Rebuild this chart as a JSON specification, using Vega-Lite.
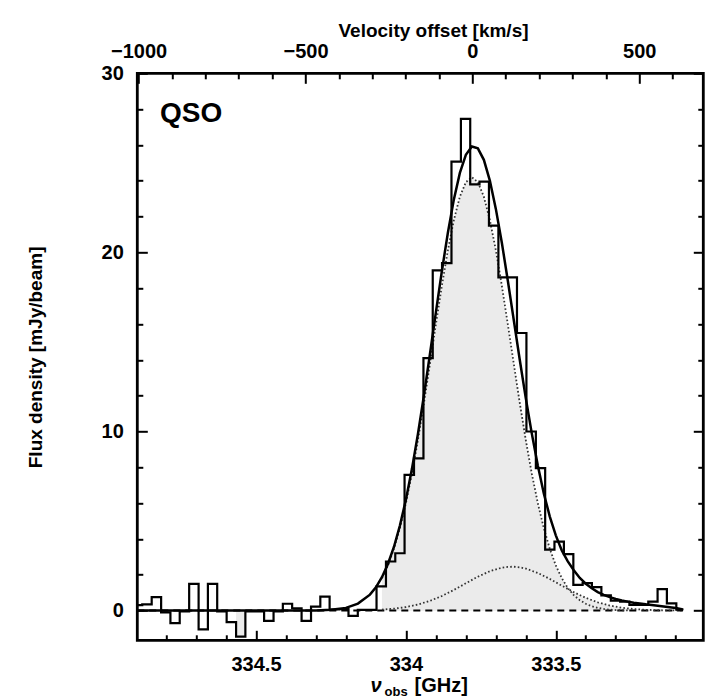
{
  "$schema": "https://vega.github.io/schema/vega-lite/v6.json",
  "width": 566,
  "height": 567,
  "autosize": {"type": "none"},
  "padding": {"left": 137.3, "top": 73.3, "right": 19.7, "bottom": 58.7},
  "background": "white",
  "config": {
    "font": "Liberation Sans",
    "view": {"stroke": "black", "strokeWidth": 2.8},
    "axis": {
      "grid": false, "domain": false, "tickColor": "black", "tickWidth": 2,
      "labelColor": "black", "titleColor": "black", "labelFlush": false,
      "labelOverlap": false, "labelBound": false,
      "labelFont": "Liberation Sans", "labelFontSize": 20, "labelFontWeight": "bold",
      "titleFont": "Liberation Sans", "titleFontSize": 19, "titleFontWeight": "bold"
    }
  },
  "datasets": {
    "hist": [
      {"nu": 334.895, "flux": 0.30}, {"nu": 334.864, "flux": 0.35}, {"nu": 334.832, "flux": 0.75},
      {"nu": 334.801, "flux": -0.10}, {"nu": 334.770, "flux": -0.70}, {"nu": 334.739, "flux": -0.05},
      {"nu": 334.707, "flux": 1.49}, {"nu": 334.676, "flux": -1.05}, {"nu": 334.645, "flux": 1.49},
      {"nu": 334.614, "flux": -0.05}, {"nu": 334.582, "flux": -0.65}, {"nu": 334.551, "flux": -1.45},
      {"nu": 334.520, "flux": -0.05}, {"nu": 334.489, "flux": -0.05}, {"nu": 334.457, "flux": -0.58},
      {"nu": 334.426, "flux": -0.05}, {"nu": 334.395, "flux": 0.38}, {"nu": 334.364, "flux": 0.13},
      {"nu": 334.332, "flux": -0.58}, {"nu": 334.301, "flux": 0.22}, {"nu": 334.270, "flux": 0.78},
      {"nu": 334.239, "flux": 0.06}, {"nu": 334.207, "flux": 0.08}, {"nu": 334.176, "flux": -0.30},
      {"nu": 334.145, "flux": 0.04}, {"nu": 334.114, "flux": 0.04}, {"nu": 334.082, "flux": 1.35},
      {"nu": 334.051, "flux": 2.74}, {"nu": 334.020, "flux": 3.20}, {"nu": 333.989, "flux": 7.58},
      {"nu": 333.957, "flux": 8.50}, {"nu": 333.926, "flux": 14.10}, {"nu": 333.895, "flux": 19.00},
      {"nu": 333.864, "flux": 19.40}, {"nu": 333.832, "flux": 25.07}, {"nu": 333.801, "flux": 27.45},
      {"nu": 333.770, "flux": 23.80}, {"nu": 333.739, "flux": 23.95}, {"nu": 333.707, "flux": 21.50},
      {"nu": 333.676, "flux": 18.60}, {"nu": 333.645, "flux": 18.60}, {"nu": 333.614, "flux": 15.50},
      {"nu": 333.582, "flux": 10.00}, {"nu": 333.551, "flux": 7.95}, {"nu": 333.520, "flux": 3.40},
      {"nu": 333.489, "flux": 3.85}, {"nu": 333.457, "flux": 3.15}, {"nu": 333.426, "flux": 1.43},
      {"nu": 333.395, "flux": 1.53}, {"nu": 333.364, "flux": 1.31}, {"nu": 333.332, "flux": 0.85},
      {"nu": 333.301, "flux": 0.55}, {"nu": 333.270, "flux": 0.50}, {"nu": 333.239, "flux": 0.32},
      {"nu": 333.207, "flux": 0.32}, {"nu": 333.176, "flux": 0.50}, {"nu": 333.145, "flux": 1.20},
      {"nu": 333.114, "flux": 0.40}, {"nu": 333.082, "flux": 0.05}, {"nu": 333.075, "flux": 0.05}
    ],
    "total": [
      {"nu": 334.895, "f": 0.0}, {"nu": 334.6, "f": 0.0}, {"nu": 334.4, "f": 0.003}, {"nu": 334.3, "f": 0.01},
      {"nu": 334.25, "f": 0.04}, {"nu": 334.2, "f": 0.15}, {"nu": 334.16, "f": 0.39}, {"nu": 334.12, "f": 0.89},
      {"nu": 334.1, "f": 1.3}, {"nu": 334.08, "f": 1.86}, {"nu": 334.06, "f": 2.6}, {"nu": 334.04, "f": 3.55},
      {"nu": 334.02, "f": 4.75}, {"nu": 334.0, "f": 6.19}, {"nu": 333.98, "f": 7.9}, {"nu": 333.96, "f": 9.85},
      {"nu": 333.94, "f": 12.0}, {"nu": 333.92, "f": 14.3}, {"nu": 333.9, "f": 16.65}, {"nu": 333.88, "f": 18.96},
      {"nu": 333.86, "f": 21.1}, {"nu": 333.84, "f": 22.96}, {"nu": 333.82, "f": 24.44}, {"nu": 333.8, "f": 25.45},
      {"nu": 333.78, "f": 25.91}, {"nu": 333.76, "f": 25.81}, {"nu": 333.74, "f": 25.17}, {"nu": 333.72, "f": 24.01},
      {"nu": 333.7, "f": 22.43}, {"nu": 333.68, "f": 20.54}, {"nu": 333.66, "f": 18.42}, {"nu": 333.64, "f": 16.2},
      {"nu": 333.62, "f": 13.98}, {"nu": 333.6, "f": 11.85}, {"nu": 333.58, "f": 9.88}, {"nu": 333.56, "f": 8.1},
      {"nu": 333.54, "f": 6.54}, {"nu": 333.52, "f": 5.25}, {"nu": 333.5, "f": 4.2}, {"nu": 333.48, "f": 3.35},
      {"nu": 333.46, "f": 2.75}, {"nu": 333.44, "f": 2.25}, {"nu": 333.42, "f": 1.82}, {"nu": 333.4, "f": 1.5},
      {"nu": 333.38, "f": 1.25}, {"nu": 333.36, "f": 1.03}, {"nu": 333.34, "f": 0.88}, {"nu": 333.32, "f": 0.75},
      {"nu": 333.3, "f": 0.65}, {"nu": 333.28, "f": 0.57}, {"nu": 333.26, "f": 0.5}, {"nu": 333.24, "f": 0.44},
      {"nu": 333.22, "f": 0.4}, {"nu": 333.2, "f": 0.35}, {"nu": 333.18, "f": 0.31}, {"nu": 333.16, "f": 0.27},
      {"nu": 333.14, "f": 0.23}, {"nu": 333.12, "f": 0.19}, {"nu": 333.1, "f": 0.14}, {"nu": 333.08, "f": 0.07},
      {"nu": 333.075, "f": 0.04}
    ],
    "narrow": [
      {"nu": 334.08, "f": 1.81}, {"nu": 334.06, "f": 2.52}, {"nu": 334.04, "f": 3.45}, {"nu": 334.02, "f": 4.6},
      {"nu": 334.0, "f": 6.0}, {"nu": 333.98, "f": 7.64}, {"nu": 333.96, "f": 9.51}, {"nu": 333.94, "f": 11.57},
      {"nu": 333.92, "f": 13.76}, {"nu": 333.9, "f": 15.98}, {"nu": 333.88, "f": 18.14}, {"nu": 333.86, "f": 20.12},
      {"nu": 333.84, "f": 21.81}, {"nu": 333.82, "f": 23.11}, {"nu": 333.8, "f": 23.92}, {"nu": 333.78, "f": 24.2},
      {"nu": 333.76, "f": 23.92}, {"nu": 333.74, "f": 23.11}, {"nu": 333.72, "f": 21.81}, {"nu": 333.7, "f": 20.12},
      {"nu": 333.68, "f": 18.14}, {"nu": 333.66, "f": 15.98}, {"nu": 333.64, "f": 13.76}, {"nu": 333.62, "f": 11.57},
      {"nu": 333.6, "f": 9.51}, {"nu": 333.58, "f": 7.64}, {"nu": 333.56, "f": 6.0}, {"nu": 333.54, "f": 4.6},
      {"nu": 333.52, "f": 3.45}, {"nu": 333.5, "f": 2.52}, {"nu": 333.48, "f": 1.81}, {"nu": 333.46, "f": 1.26},
      {"nu": 333.44, "f": 0.86}, {"nu": 333.42, "f": 0.58}, {"nu": 333.4, "f": 0.38}, {"nu": 333.38, "f": 0.24},
      {"nu": 333.36, "f": 0.15}, {"nu": 333.34, "f": 0.09}, {"nu": 333.32, "f": 0.05}, {"nu": 333.3, "f": 0.03},
      {"nu": 333.28, "f": 0.02}, {"nu": 333.26, "f": 0.01}
    ],
    "broad": [
      {"nu": 334.08, "f": 0.055}, {"nu": 334.04, "f": 0.107}, {"nu": 334.0, "f": 0.196}, {"nu": 333.96, "f": 0.336},
      {"nu": 333.92, "f": 0.54}, {"nu": 333.88, "f": 0.815}, {"nu": 333.84, "f": 1.151}, {"nu": 333.8, "f": 1.524},
      {"nu": 333.76, "f": 1.891}, {"nu": 333.72, "f": 2.199}, {"nu": 333.68, "f": 2.397}, {"nu": 333.66, "f": 2.442},
      {"nu": 333.64, "f": 2.448}, {"nu": 333.62, "f": 2.414}, {"nu": 333.6, "f": 2.343}, {"nu": 333.56, "f": 2.101},
      {"nu": 333.52, "f": 1.766}, {"nu": 333.48, "f": 1.392}, {"nu": 333.44, "f": 1.027}, {"nu": 333.4, "f": 0.711},
      {"nu": 333.36, "f": 0.461}, {"nu": 333.32, "f": 0.28}, {"nu": 333.28, "f": 0.159}, {"nu": 333.24, "f": 0.085},
      {"nu": 333.2, "f": 0.043}, {"nu": 333.16, "f": 0.02}, {"nu": 333.12, "f": 0.009}, {"nu": 333.08, "f": 0.004}
    ],
    "zero": [{"v": -1004, "f": 0}, {"v": 631, "f": 0}],
    "fillbins": [{"lo": 334.5665, "hi": 334.5353, "v": -1.45}],
    "label": [{"v": -936, "f": 27.3, "text": "QSO"}],
    "vmark": [{"v": 0}]
  },
  "resolve": {"scale": {"x": "independent"}, "axis": {"x": "independent", "y": "independent"}},
  "layer": [
    {
      "data": {"name": "narrow"},
      "mark": {"type": "area", "color": "#ebebeb", "clip": true},
      "encoding": {
        "x": {"field": "nu", "type": "quantitative", "scale": {"domain": [333.008, 334.896], "reverse": true, "nice": false, "zero": false}, "axis": null},
        "y": {"field": "f", "type": "quantitative", "scale": {"domain": [-1.66, 30], "nice": false, "zero": false},
          "axis": {"orient": "right", "values": [2,4,6,8,12,14,16,18,22,24,26,28], "tickSize": -5.5, "labels": false, "title": null}},
        "y2": {"datum": 0}
      }
    },
    {
      "data": {"name": "broad"},
      "mark": {"type": "area", "color": "#ebebeb", "clip": true},
      "encoding": {
        "x": {"field": "nu", "type": "quantitative", "scale": {"domain": [333.008, 334.896], "reverse": true, "nice": false, "zero": false}, "axis": null},
        "y": {"field": "f", "type": "quantitative", "scale": {"domain": [-1.66, 30], "nice": false, "zero": false},
          "axis": {"orient": "right", "values": [0,10,20,30], "tickSize": -10, "labels": false, "title": null}},
        "y2": {"datum": 0}
      }
    },
    {
      "data": {"name": "fillbins"},
      "mark": {"type": "rect", "color": "#ebebeb", "clip": true},
      "encoding": {
        "x": {"field": "lo", "type": "quantitative", "scale": {"domain": [333.008, 334.896], "reverse": true, "nice": false, "zero": false}, "axis": null},
        "x2": {"field": "hi"},
        "y": {"field": "v", "type": "quantitative", "scale": {"domain": [-1.66, 30], "nice": false, "zero": false}, "axis": null},
        "y2": {"datum": 0}
      }
    },
    {
      "data": {"name": "zero"},
      "mark": {"type": "line", "color": "black", "strokeWidth": 2, "strokeDash": [7, 5], "clip": true},
      "encoding": {
        "x": {"field": "v", "type": "quantitative", "scale": {"domain": [-1004, 692], "nice": false, "zero": false},
          "axis": {"orient": "top", "values": [-900,-800,-700,-600,-400,-300,-200,-100,100,200,300,400,600], "tickSize": -5.5, "labels": false, "title": null}},
        "y": {"field": "f", "type": "quantitative", "scale": {"domain": [-1.66, 30], "nice": false, "zero": false}, "axis": null}
      }
    },
    {
      "data": {"name": "narrow"},
      "mark": {"type": "line", "color": "#333333", "strokeWidth": 1.8, "strokeDash": [1.6, 2.2], "clip": true},
      "encoding": {
        "x": {"field": "nu", "type": "quantitative", "scale": {"domain": [333.008, 334.896], "reverse": true, "nice": false, "zero": false},
          "axis": {"orient": "bottom", "values": [334.8,334.7,334.6,334.4,334.3,334.2,334.1,333.9,333.8,333.7,333.6,333.4,333.3,333.2,333.1], "tickSize": -5.5, "labels": false,
            "title": "[GHz]", "titleX": 276.7, "titleY": 51.5, "titleAlign": "left", "titleBaseline": "alphabetic", "titleFontSize": 20}},
        "y": {"field": "f", "type": "quantitative", "scale": {"domain": [-1.66, 30], "nice": false, "zero": false},
          "axis": {"orient": "left", "values": [2,4,6,8,12,14,16,18,22,24,26,28], "tickSize": -5.5, "labels": false, "title": null}}
      }
    },
    {
      "data": {"name": "broad"},
      "mark": {"type": "line", "color": "#333333", "strokeWidth": 1.8, "strokeDash": [1.6, 2.2], "clip": true},
      "encoding": {
        "x": {"field": "nu", "type": "quantitative", "scale": {"domain": [333.008, 334.896], "reverse": true, "nice": false, "zero": false},
          "axis": {"orient": "bottom", "values": [334.5, 334.0, 333.5], "tickSize": -10, "labels": false,
            "title": "obs", "titleX": 246.7, "titleY": 55.5, "titleAlign": "left", "titleBaseline": "alphabetic", "titleFontSize": 13}},
        "y": {"field": "f", "type": "quantitative", "scale": {"domain": [-1.66, 30], "nice": false, "zero": false},
          "axis": {"orient": "left", "values": [0,10,20,30], "tickSize": -10, "labels": false, "title": null}}
      }
    },
    {
      "data": {"name": "total"},
      "mark": {"type": "line", "color": "black", "strokeWidth": 2.5, "clip": true},
      "encoding": {
        "x": {"field": "nu", "type": "quantitative", "scale": {"domain": [333.008, 334.896], "reverse": true, "nice": false, "zero": false},
          "axis": {"orient": "bottom", "values": [334.5, 334, 333.5, 333], "ticks": false, "labelPadding": 14, "format": "~g",
            "title": "ν", "titleX": 232.7, "titleY": 51.5, "titleAlign": "left", "titleBaseline": "alphabetic", "titleFontSize": 20, "titleFontStyle": "italic"}},
        "y": {"field": "f", "type": "quantitative", "scale": {"domain": [-1.66, 30], "nice": false, "zero": false},
          "axis": {"orient": "left", "values": [0,10,20,30], "ticks": false, "labelPadding": 14, "format": "d",
            "title": "Flux density [mJy/beam]", "titleX": -102, "titleY": 283.6, "titleAngle": 270, "titleAlign": "center", "titleBaseline": "middle"}}
      }
    },
    {
      "data": {"name": "hist"},
      "mark": {"type": "line", "color": "black", "strokeWidth": 2.2, "interpolate": "step", "clip": true},
      "encoding": {
        "x": {"field": "nu", "type": "quantitative", "scale": {"domain": [333.008, 334.896], "reverse": true, "nice": false, "zero": false}, "axis": null},
        "y": {"field": "flux", "type": "quantitative", "scale": {"domain": [-1.66, 30], "nice": false, "zero": false}, "axis": null}
      }
    },
    {
      "data": {"name": "label"},
      "mark": {"type": "text", "align": "left", "baseline": "alphabetic", "fontSize": 28, "fontWeight": "bold", "font": "Liberation Sans", "color": "black"},
      "encoding": {
        "x": {"field": "v", "type": "quantitative", "scale": {"domain": [-1004, 692], "nice": false, "zero": false},
          "axis": {"orient": "top", "values": [-1000, -500, 0, 500], "ticks": false, "labelPadding": 12, "format": "d",
            "title": "Velocity offset [km/s]", "titleX": 295.7, "titleY": -37, "titleAlign": "center", "titleBaseline": "alphabetic"}},
        "y": {"field": "f", "type": "quantitative", "scale": {"domain": [-1.66, 30], "nice": false, "zero": false}, "axis": null},
        "text": {"field": "text"}
      }
    },
    {
      "data": {"name": "vmark"},
      "mark": {"type": "point", "opacity": 0},
      "encoding": {
        "x": {"field": "v", "type": "quantitative", "scale": {"domain": [-1004, 692], "nice": false, "zero": false},
          "axis": {"orient": "top", "values": [-1000, -500, 0, 500], "tickSize": -10, "labels": false, "title": null}}
      }
    }
  ]
}
